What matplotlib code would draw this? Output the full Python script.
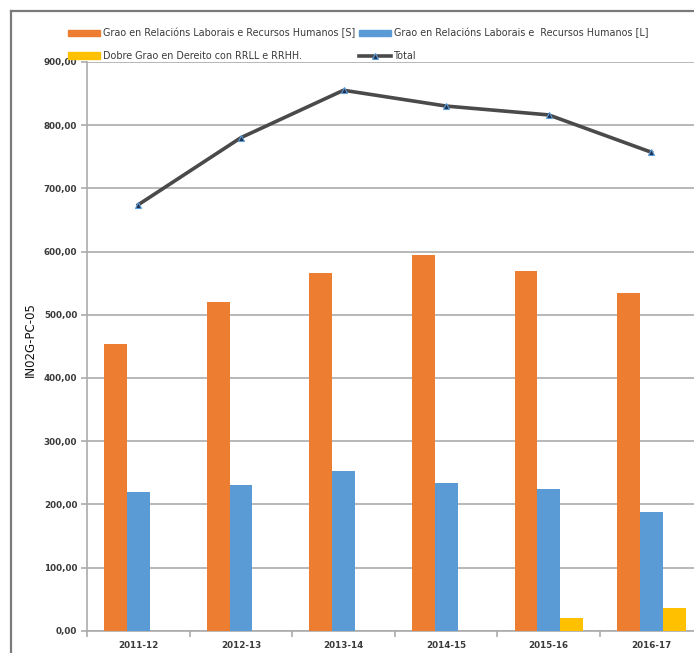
import matplotlib
matplotlib.use("Agg")
import matplotlib.pyplot as plt
from matplotlib.lines import Line2D
import numpy as np

categories = ["2011-12", "2012-13", "2013-14", "2014-15", "2015-16", "2016-17"]
grao_s = [453.5, 520, 566, 595, 569.5, 534]
grao_l = [219, 230, 253.5, 233.5, 224.5, 187.5]
dobre_grao = [0, 0, 0, 0, 20.4, 37]
total = [674, 780, 855, 830, 816, 757]

series_labels = [
    "Grao en Relacións Laborais e Recursos Humanos [S]",
    "Grao en Relacións Laborais e  Recursos Humanos [L]",
    "Dobre Grao en Dereito con RRLL e RRHH.",
    "Total",
]
y_label = "IN02G-PC-05"
y_ticks = [0, 100, 200, 300, 400, 500, 600, 700, 800, 900]

c_orange = "#ED7D31"
c_blue = "#5B9BD5"
c_yellow = "#FFC000"
c_line = "#4A4A4A"
c_grid = "#ABABAB"
c_text = "#3A3A3A"

W, H = 694, 653
fig = plt.figure(figsize=(W / 100, H / 100), dpi=100)
ax = fig.add_axes([87 / W, 22.1 / H, 615.6 / W, 569.1 / H])

x = np.arange(len(categories))
bw = 1 / 4.5
ax.bar(x - bw, grao_s, bw, color=c_orange, zorder=3)
ax.bar(x, grao_l, bw, color=c_blue, zorder=3)
ax.bar(x + bw, dobre_grao, bw, color=c_yellow, zorder=3)
ax.plot(x, total, color=c_line, lw=2.6, marker="^", markersize=4.5,
        markerfacecolor="#1F2F4F", markeredgecolor=c_blue, markeredgewidth=0.8,
        zorder=4)

ax.set_xlim(-0.5, len(categories) - 0.5)
ax.set_ylim(0, 900)
ax.set_yticks(y_ticks)
ax.set_yticklabels([f"{v:.2f}".replace(".", ",") for v in y_ticks],
                   fontsize=6.3, color=c_text, fontweight="bold")
ax.yaxis.grid(True, color=c_grid, lw=1.2, zorder=0)
ax.set_axisbelow(True)

ax.set_xticks(np.arange(len(categories) + 1) - 0.5)
ax.set_xticklabels([])
ax.set_xticks(x, minor=True)
ax.set_xticklabels(categories, minor=True, fontsize=6.3, color=c_text, fontweight="bold")
ax.tick_params(axis="x", which="minor", length=0, pad=7)
ax.tick_params(axis="x", which="major", length=4, color=c_grid, width=1.2)
ax.tick_params(axis="y", length=4, color=c_grid, width=1.2, pad=3)

for s in ["top", "right"]:
    ax.spines[s].set_visible(False)
for s in ["left", "bottom"]:
    ax.spines[s].set_color(c_grid)
    ax.spines[s].set_linewidth(1.2)

fig.text(30 / W, 1 - 340 / H, y_label, rotation=90, ha="center", va="center",
         fontsize=8.5, color="#111111")

handles = [
    plt.Rectangle((0, 0), 1, 1, color=c_orange),
    plt.Rectangle((0, 0), 1, 1, color=c_yellow),
    plt.Rectangle((0, 0), 1, 1, color=c_blue),
    Line2D([0], [0], color=c_line, lw=2.6, marker="^", markersize=4.5,
           markerfacecolor="#1F2F4F", markeredgecolor=c_blue, markeredgewidth=0.8),
]
labels = [series_labels[0], series_labels[2], series_labels[1], series_labels[3]]
fig.legend(handles, labels, ncol=2, loc="upper left",
           bbox_to_anchor=(68 / W, 1 - 28 / H), frameon=False,
           fontsize=6.9, handlelength=3.35, handleheight=0.65, handletextpad=0.3,
           columnspacing=0.4, labelspacing=1.3, borderpad=0, borderaxespad=0,
           labelcolor=c_text)

# outer frame (left and top)
fig.add_artist(Line2D([11 / W, 11 / W], [0, 1 - 11 / H], transform=fig.transFigure,
                      color="#7A7A7A", lw=1.6))
fig.add_artist(Line2D([11 / W, 1], [1 - 11 / H, 1 - 11 / H], transform=fig.transFigure,
                      color="#7A7A7A", lw=1.6))

fig.savefig("out.png", dpi=100)
